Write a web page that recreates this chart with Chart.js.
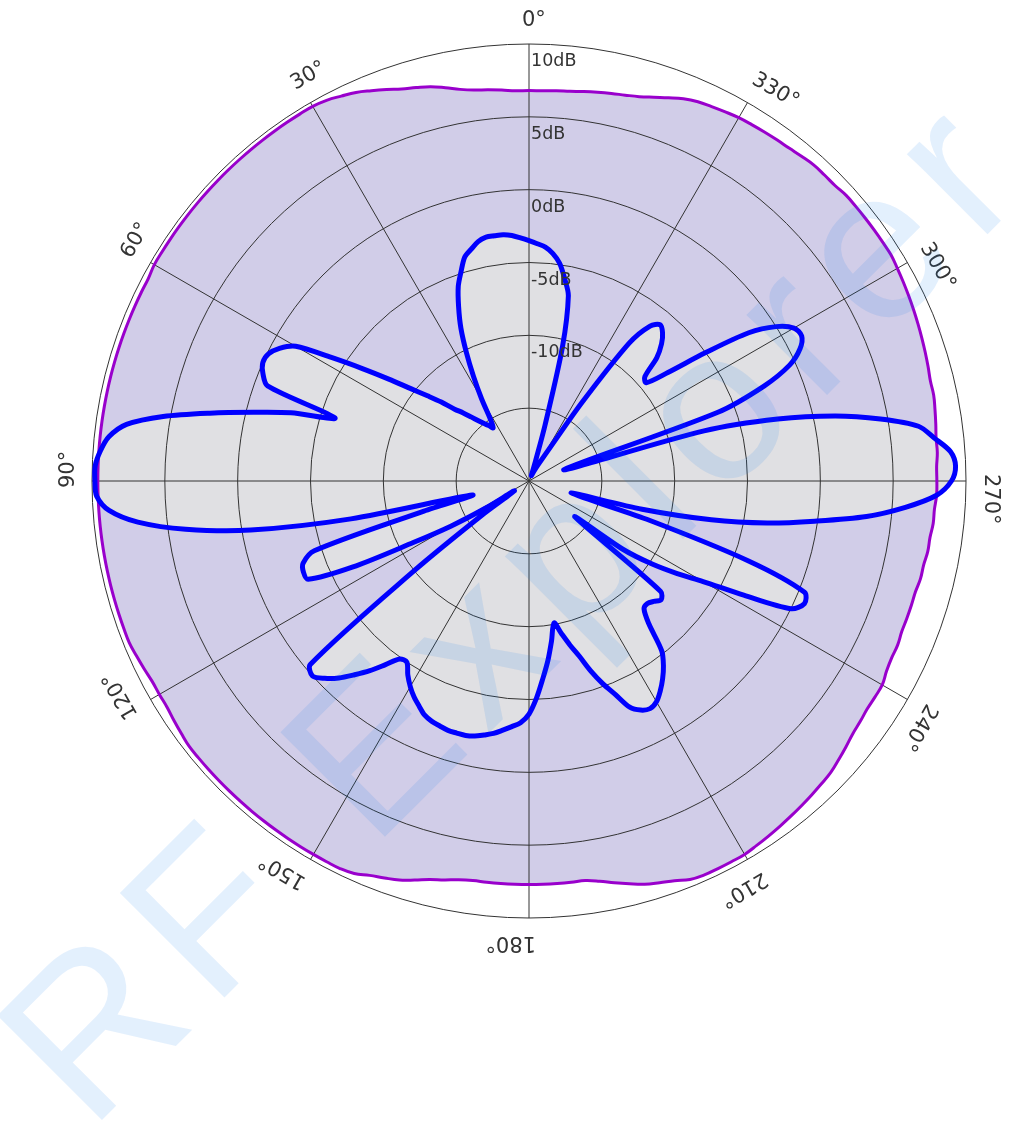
<!DOCTYPE html>
<html>
<head>
<meta charset="utf-8">
<title>Polar pattern</title>
<script src="https://cdn.jsdelivr.net/npm/chart.js@4.4.1/dist/chart.umd.min.js"></script>
<style>
  html, body { margin: 0; padding: 0; background: #fff; }
  canvas { display: block; }
</style>
</head>
<body>
<canvas id="chartPolar" width="1009" height="1128"></canvas>
<script>
// angles go counter-clockwise from the top, one sample every 2 degrees
const angleStep = 2;
const angleLabels = ['0°', '30°', '60°', '90°', '120°', '150°', '180°', '210°', '240°', '270°', '300°', '330°'];
const dbTicks = [10, 5, 0, -5, -10];

// blue trace, dB at 0,2,4 ... 358 degrees
const pattern = [
  -3.5, -3.3, -3.1, -3.0, -3.0, -3.0, -3.2, -3.6, -4.0, -4.9,
  -5.8, -7.1, -8.5, -10.2, -11.9, -13.5, -15.0, -15.6, -15.3, -15.0,
  -14.6, -14.1, -13.5, -12.9, -11.9, -10.9, -9.7, -8.1, -6.2, -4.0,
  -1.5, -0.6, -0.1, 0.0, -0.3, -0.9, -6.0, -3.0, -0.5, 2.4,
  5.5, 7.9, 9.0, 9.5, 9.8, 9.8, 9.7, 8.9, 7.0, 3.8,
  -0.6, -7.5, -16.0, -12.5, -4.5, -3.5, -3.3, -3.4, -6.5, -11.0,
  -13.8, -16.5, -18.8, -16.0, -10.0, -0.4, 0.0, -0.5, -1.2, -2.1,
  -3.0, -4.0, -4.9, -5.0, -4.3, -3.7, -3.2, -2.8, -2.4, -2.2,
  -2.1, -2.0, -2.0, -2.0, -2.1, -2.3, -2.5, -2.8, -3.1, -3.4,
  -4.0, -5.1, -6.4, -7.6, -8.9, -10.1, -9.3, -8.4, -7.5, -6.3,
  -5.2, -4.2, -3.0, -2.5, -2.3, -2.5, -3.0, -3.6, -4.3, -5.2,
  -7.2, -8.2, -8.3, -8.1, -7.8, -8.2, -16.0, -12.0, -9.8, -8.0,
  -6.2, -3.3, 0.0, 0.7, 0.4, -4.0, -11.5, -17.0, -12.0, -7.2,
  -3.4, -0.2, 3.3, 5.9, 8.0, 9.0, 9.3, 9.0, 8.0, 7.0,
  4.5, 1.5, -2.4, -7.5, -17.5, -6.2, -2.6, -0.4, 0.7, 1.2,
  1.0, 0.0, -1.8, -5.0, -7.9, -9.5, -9.3, -7.8, -6.9, -6.3,
  -6.0, -6.5, -8.3, -13.5, -17.5, -18.5, -19.0, -19.4, -19.6, -19.5,
  -19.2, -18.5, -16.0, -10.5, -7.0, -5.9, -4.9, -4.3, -3.9, -3.7
];

// purple trace, dB at 0,2,4 ... 358 degrees
const envelope = [
  6.8, 6.8, 6.9, 7.0, 7.1, 7.3, 7.6, 7.9, 8.1, 8.3,
  8.6, 8.9, 9.2, 9.4, 9.6, 9.7, 9.7, 9.7, 9.7, 9.7,
  9.7, 9.7, 9.7, 9.7, 9.7, 9.7, 9.7, 9.7, 9.7, 9.7,
  9.7, 9.6, 9.6, 9.6, 9.6, 9.6, 9.6, 9.6, 9.6, 9.6,
  9.6, 9.6, 9.6, 9.6, 9.6, 9.6, 9.6, 9.6, 9.6, 9.6,
  9.6, 9.6, 9.6, 9.6, 9.6, 9.6, 9.6, 9.5, 9.4, 9.3,
  9.3, 9.3, 9.4, 9.5, 9.6, 9.6, 9.6, 9.6, 9.6, 9.6,
  9.6, 9.6, 9.6, 9.6, 9.6, 9.6, 9.6, 9.6, 9.5, 9.2,
  9.0, 8.8, 8.5, 8.2, 8.0, 7.8, 7.7, 7.7, 7.7, 7.7,
  7.7, 7.7, 7.7, 7.7, 7.7, 7.9, 8.2, 8.5, 8.8, 9.0,
  9.2, 9.5, 9.6, 9.6, 9.6, 9.6, 9.5, 9.4, 9.3, 9.2,
  9.1, 9.0, 8.9, 8.8, 8.6, 8.4, 8.2, 8.1, 8.0, 8.0,
  8.0, 7.8, 7.7, 7.7, 7.6, 7.6, 7.6, 7.6, 7.7, 7.7,
  7.8, 7.8, 7.9, 7.9, 8.0, 8.0, 8.0, 8.1, 8.1, 8.2,
  8.3, 8.4, 8.4, 8.5, 8.6, 8.7, 8.8, 8.9, 9.0, 9.1,
  9.2, 9.3, 9.3, 9.3, 9.3, 9.3, 9.3, 9.2, 9.2, 9.2,
  9.1, 9.0, 8.95, 8.9, 8.85, 8.8, 8.7, 8.6, 8.5, 8.3,
  8.0, 7.7, 7.45, 7.3, 7.2, 7.1, 7.0, 6.9, 6.85, 6.8
];

// Chart.js walks the radar clockwise, so flip the order
const count = pattern.length;
const flip = arr => arr.map((v, k) => arr[(count - k) % count]);
const labels = flip(pattern.map((v, i) => (i * angleStep) + '°'));

const polarText = {
  id: 'polarText',
  afterDraw(chart) {
    const ctx = chart.ctx;
    const scale = chart.scales.r;
    ctx.save();
    ctx.fillStyle = '#333';
    ctx.textAlign = 'left';
    ctx.textBaseline = 'alphabetic';

    ctx.font = '21px "DejaVu Sans"';
    angleLabels.forEach((txt, i) => {
      const k = ((360 - i * 30) % 360) / angleStep;
      const p = scale.getPointPosition(k, scale.drawingArea + 18.5);
      ctx.save();
      ctx.translate(p.x, p.y);
      ctx.rotate(scale.getIndexAngle(k));
      ctx.fillText(txt, -7, 0);
      ctx.restore();
    });

    ctx.font = '17.5px "DejaVu Sans"';
    dbTicks.forEach(v => {
      const d = scale.getDistanceFromCenterForValue(v);
      ctx.fillText(v + 'dB', scale.xCenter + 2, scale.yCenter - d + 22);
    });

    // watermark
    ctx.font = '215px "Liberation Sans", Arial';
    ctx.letterSpacing = '18px';
    ctx.fillStyle = 'rgba(0, 118, 236, 0.11)';
    ctx.textAlign = 'center';
    ctx.textBaseline = 'middle';
    ctx.translate(523, 615);
    ctx.rotate(-45 * Math.PI / 180);
    ctx.fillText('RF Explorer', 0, 0);
    ctx.restore();
  }
};

new Chart(document.getElementById('chartPolar'), {
  type: 'radar',
  data: {
    labels: labels,
    datasets: [{
      label: 'Pattern',
      data: flip(pattern),
      borderColor: '#0000ff',
      borderWidth: 5,
      backgroundColor: '#e0e0e3',
      fill: 'start',
      pointRadius: 0,
      tension: 0.3
    }, {
      label: 'Envelope',
      data: flip(envelope),
      borderColor: '#9900cc',
      borderWidth: 3,
      backgroundColor: '#d1cde8',
      fill: 'start',
      pointRadius: 0,
      tension: 0.4
    }]
  },
  options: {
    responsive: false,
    animation: false,
    events: [],
    layout: { padding: { left: 92, right: 43, top: 44, bottom: 210 } },
    plugins: {
      legend: { display: false },
      tooltip: { enabled: false },
      filler: { drawTime: 'beforeDraw' }
    },
    scales: {
      r: {
        min: -20,
        max: 10,
        ticks: { stepSize: 5, display: false },
        pointLabels: { display: false },
        grid: { circular: true, color: '#333', lineWidth: 1 },
        angleLines: {
          color: '#333',
          lineWidth: ctx => (ctx.index % (30 / angleStep) === 0 ? 1 : 0)
        }
      }
    }
  },
  plugins: [polarText]
});
</script>
</body>
</html>
